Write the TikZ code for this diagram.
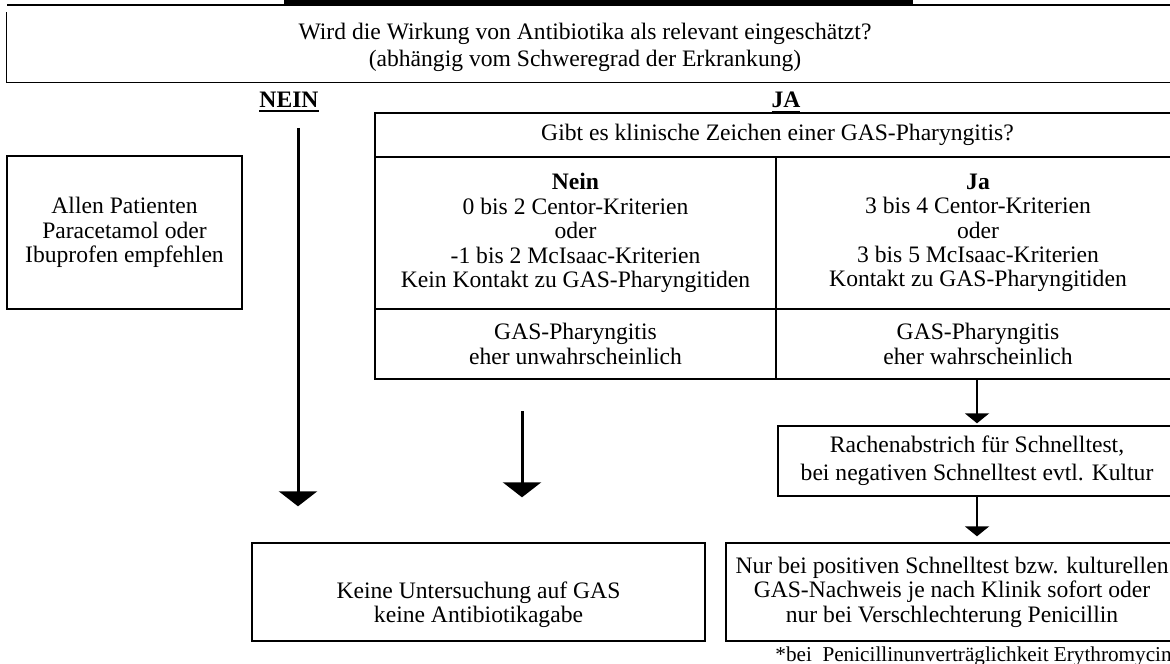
\documentclass[tikz,border=0pt]{standalone}
\usepackage{fontspec}
\setmainfont{Liberation Serif}
\usetikzlibrary{arrows.meta}
\newcommand{\boldul}[1]{\leavevmode\vtop{\hbox{\bfseries #1}\kern1.2pt\hrule height 0.9pt}}

\begin{document}
\begin{tikzpicture}[
    x=0.5pt, y=-0.5pt,
    every node/.style={font=\fontsize{11.8pt}{12.2pt}\selectfont},
    wide/.style={font=\fontsize{11.8pt}{13.8pt}\selectfont},
    box/.style={rectangle, draw, line width=0.7pt, inner sep=0pt, align=center},
    bigarrow/.style={-{Triangle[length=7.5pt, width=19pt]}, line width=1.5pt},
    smallarrow/.style={-{Triangle[length=5pt, width=12pt]}, line width=1.2pt}
  ]
    \useasboundingbox (0,0) rectangle (1170,663);
    \clip (0,0) rectangle (1170,663);

    % Top rule
    \fill (284,0) rectangle (913,5.5);
    \draw[line width=0.7pt] (7,5) -- (1170,5);

    % Main question
    \node[box, wide, draw=none, minimum width=578pt, minimum height=34.5pt] (frage) at (585,47.5)
      {Wird die Wirkung von Antibiotika als relevant eingeschätzt?\\(abhängig vom Schweregrad der Erkrankung)};
    \draw[line width=0.7pt] (frage.north west) -- (frage.south west) -- (frage.south east) -- ++(30,0);

    % Branch labels
    \node[anchor=base] (nein) at (289,108) {\boldul{NEIN}};
    \node[anchor=base] (ja) at (786,108) {\boldul{JA}};

    % JA side: clinical signs
    \node[box, minimum width=402.5pt, minimum height=22pt] (gibt) at (777.5,135)
      {Gibt es klinische Zeichen einer GAS-Pharyngitis?};
    \node[box, minimum width=200.5pt, minimum height=76pt] (keinzeichen) at (575.5,233)
      {\textbf{Nein}\\0 bis 2 Centor-Kriterien\\oder\\-1 bis 2 McIsaac-Kriterien\\Kein Kontakt zu GAS-Pharyngitiden};
    \node[box, minimum width=202pt, minimum height=76pt] (zeichen) at (978,233)
      {\textbf{Ja}\\3 bis 4 Centor-Kriterien\\oder\\3 bis 5 McIsaac-Kriterien\\Kontakt zu GAS-Pharyngitiden};
    \node[box, minimum width=200.5pt, minimum height=35pt] (unwahr) at (575.5,344)
      {GAS-Pharyngitis\\eher unwahrscheinlich};
    \node[box, minimum width=202pt, minimum height=35pt] (wahr) at (978,344)
      {GAS-Pharyngitis\\eher wahrscheinlich};

    % NEIN side
    \node[box, minimum width=117.5pt, minimum height=76.5pt] (allen) at (124.5,232.5)
      {Allen Patienten\\Paracetamol oder\\Ibuprofen empfehlen};

    % Lower boxes
    \node[box, wide, minimum width=199pt, minimum height=35pt] (abstrich) at (977,461)
      {Rachenabstrich für Schnelltest,\\bei negativen Schnelltest evtl. Kultur};
    \node[box, minimum width=226.5pt, minimum height=49pt] (keine) at (478.5,592) {};
    \node[align=center, inner sep=0pt] (keinetext) at (478.5,604.5)
      {Keine Untersuchung auf GAS\\keine Antibiotikagabe};
    \node[box, minimum width=226pt, minimum height=49pt] (nur) at (952,592)
      {Nur bei positiven Schnelltest bzw. kulturellen\\GAS-Nachweis je nach Klinik sofort oder\\nur bei Verschlechterung Penicillin};
    \node[anchor=base west, inner sep=0pt, font=\fontsize{10.6pt}{12pt}\selectfont] (fussnote) at (775,661)
      {*bei\ \ Penicillinunverträglichkeit Erythromycin};

    % Arrows
    \coordinate (neinstart) at (298,128);
    \coordinate (mittestart) at (522,411);
    \draw[bigarrow, shorten >=18pt] (neinstart) -- (neinstart |- keine.north);
    \draw[bigarrow, shorten >=22.5pt] (mittestart) -- (mittestart |- keine.north);
    \draw[smallarrow, shorten >=1pt] (wahr.south -| abstrich.north) -- (abstrich.north);
    \draw[smallarrow, shorten >=3pt] (abstrich.south) -- (abstrich.south |- nur.north);
  \end{tikzpicture}
\end{document}
